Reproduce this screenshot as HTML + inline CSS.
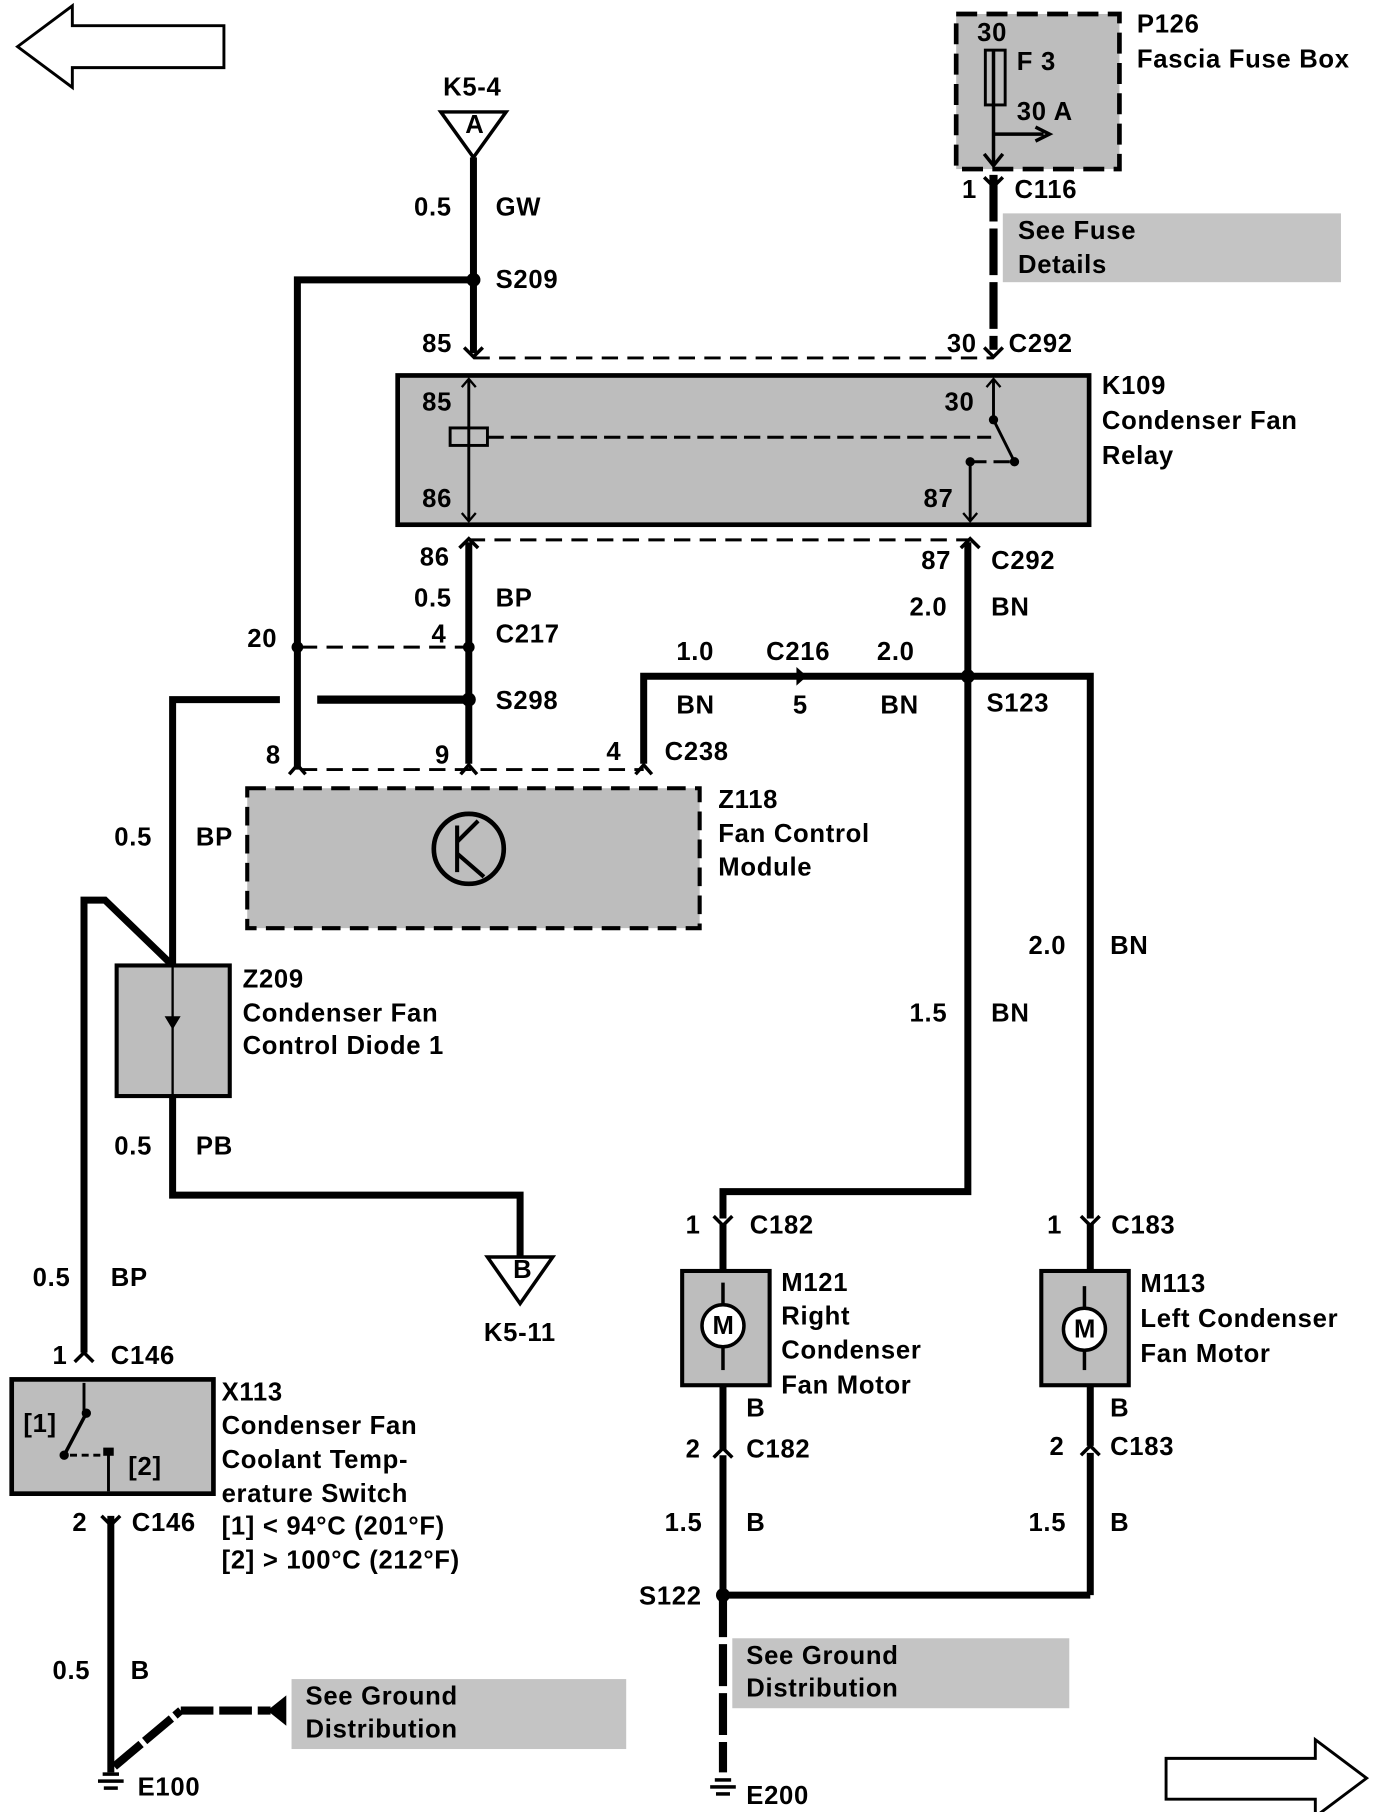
<!DOCTYPE html>
<html><head><meta charset="utf-8"><style>
html,body{margin:0;padding:0;background:#fff}
svg{display:block}
text{font-family:"Liberation Sans",Arial,sans-serif;font-weight:bold;font-size:22px;letter-spacing:0.6px;fill:#000}
</style></head><body>
<svg width="1376" height="1812" viewBox="0 0 1180 1554" xmlns="http://www.w3.org/2000/svg">
<g fill="none" stroke="#000">
<polygon points="15,40 62,5 62,22 192,22 192,58 62,58 62,75" stroke-width="2.5" fill="#fff"/>
<polygon points="1172,1525 1128,1492 1128,1508 1000,1508 1000,1543 1128,1543 1128,1558" stroke-width="2.5" fill="#fff"/>
<rect x="820" y="12" width="140" height="133" fill="#bdbdbd" stroke-width="4" stroke-dasharray="18,8"/>
<rect x="845" y="43" width="17" height="47" stroke-width="2.5"/>
<line x1="852" y1="43" x2="852" y2="140" stroke-width="3"/>
<line x1="852" y1="115" x2="895" y2="115" stroke-width="3"/>
<polyline points="888,109 900,115 888,121" stroke-width="3"/>
<polyline points="844,132 852,142 860,132" stroke-width="3"/>
<rect x="860" y="183" width="290" height="59" fill="#c4c4c4" stroke="none"/>
<line x1="852" y1="150" x2="852" y2="300" stroke-width="7" stroke-dasharray="40,6"/>
<polyline points="844,152 852,160 860,152" stroke-width="3"/>
<polygon points="378,96 434,96 406,135" stroke-width="3" fill="#fff"/>
<line x1="406" y1="135" x2="406" y2="303" stroke-width="6"/>
<polyline points="255,660 255,240 406,240" stroke-width="6"/>
<polyline points="398,298 406,306 414,298" stroke-width="3"/>
<polyline points="844,298 852,306 860,298" stroke-width="3"/>
<line x1="406" y1="307" x2="852" y2="307" stroke-width="2.5" stroke-dasharray="14,8"/>
<rect x="341" y="322" width="593" height="128" fill="#bdbdbd" stroke-width="4"/>
<line x1="402" y1="325" x2="402" y2="447" stroke-width="2.5"/>
<polyline points="396,332 402,325 408,332" stroke-width="2"/>
<polyline points="396,440 402,447 408,440" stroke-width="2"/>
<rect x="386" y="367" width="32" height="15" stroke-width="2.5"/>
<line x1="418" y1="375" x2="850" y2="375" stroke-width="2.5" stroke-dasharray="14,6"/>
<polyline points="852,325 852,360 870,396" stroke-width="2.5"/>
<polyline points="846,332 852,325 858,332" stroke-width="2"/>
<polyline points="832,396 868,396" stroke-width="2.5" stroke-dasharray="14,6"/>
<line x1="832" y1="447" x2="832" y2="396" stroke-width="2.5"/>
<polyline points="826,440 832,447 838,440" stroke-width="2"/>
<line x1="402" y1="463" x2="832" y2="463" stroke-width="2.5" stroke-dasharray="14,8"/>
<polyline points="394,470 402,462 410,470" stroke-width="3"/>
<polyline points="824,470 832,462 840,470" stroke-width="3"/>
<line x1="402" y1="465" x2="402" y2="655" stroke-width="6"/>
<line x1="258" y1="555" x2="402" y2="555" stroke-width="2.5" stroke-dasharray="14,8"/>
<line x1="258" y1="660" x2="552" y2="660" stroke-width="2.5" stroke-dasharray="14,8"/>
<polyline points="248,664 255,656 262,664" stroke-width="3"/>
<polyline points="395,664 402,656 409,664" stroke-width="3"/>
<polyline points="545,664 552,656 559,664" stroke-width="3"/>
<line x1="272" y1="600" x2="402" y2="600" stroke-width="7"/>
<polyline points="240,600 148,600 148,828" stroke-width="6"/>
<polyline points="148,940 148,1025 446,1025 446,1078" stroke-width="6"/>
<polyline points="72,1160 72,772 90,772 148,828" stroke-width="6"/>
<polyline points="552,655 552,580 830,580" stroke-width="6"/>
<polyline points="830,465 830,1022 620,1022 620,1045" stroke-width="6"/>
<polyline points="830,580 935,580 935,1045" stroke-width="6"/>
<rect x="212" y="676" width="388" height="120" fill="#bdbdbd" stroke-width="3.5" stroke-dasharray="16,8"/>
<circle cx="402" cy="728" r="30" stroke-width="4"/>
<line x1="392" y1="708" x2="392" y2="748" stroke-width="3.5"/>
<line x1="392" y1="722" x2="410" y2="704" stroke-width="3.5"/>
<line x1="392" y1="732" x2="415" y2="752" stroke-width="3.5"/>
<rect x="100" y="828" width="97" height="112" fill="#bdbdbd" stroke-width="3.5"/>
<line x1="148" y1="828" x2="148" y2="940" stroke-width="2"/>
<polygon points="142,872 154,872 148,882" fill="#000"/>
<polygon points="418,1078 474,1078 446,1118" stroke-width="3" fill="#fff"/>
<polyline points="612,1043 620,1051 628,1043" stroke-width="3"/>
<line x1="620" y1="1050" x2="620" y2="1090" stroke-width="6"/>
<rect x="585" y="1090" width="75" height="98" fill="#bdbdbd" stroke-width="3.5"/>
<circle cx="620" cy="1137" r="18" fill="#fff" stroke-width="3"/>
<line x1="620" y1="1100" x2="620" y2="1118" stroke-width="3"/>
<line x1="620" y1="1156" x2="620" y2="1175" stroke-width="3"/>
<line x1="620" y1="1188" x2="620" y2="1243" stroke-width="6"/>
<polyline points="612,1250 620,1242 628,1250" stroke-width="3"/>
<line x1="620" y1="1248" x2="620" y2="1368" stroke-width="6"/>
<line x1="620" y1="1368" x2="620" y2="1520" stroke-width="7" stroke-dasharray="36,6"/>
<line x1="620" y1="1368" x2="935" y2="1368" stroke-width="6"/>
<polyline points="927,1043 935,1051 943,1043" stroke-width="3"/>
<line x1="935" y1="1050" x2="935" y2="1090" stroke-width="6"/>
<rect x="893" y="1090" width="75" height="98" fill="#bdbdbd" stroke-width="3.5"/>
<circle cx="930" cy="1140" r="18" fill="#fff" stroke-width="3"/>
<line x1="930" y1="1103" x2="930" y2="1121" stroke-width="3"/>
<line x1="930" y1="1159" x2="930" y2="1175" stroke-width="3"/>
<line x1="935" y1="1188" x2="935" y2="1240" stroke-width="6"/>
<polyline points="927,1248 935,1240 943,1248" stroke-width="3"/>
<line x1="935" y1="1246" x2="935" y2="1368" stroke-width="6"/>
<rect x="628" y="1405" width="289" height="60" fill="#c4c4c4" stroke="none"/>
<polyline points="64,1168 72,1160 80,1168" stroke-width="3"/>
<rect x="10" y="1183" width="173" height="98" fill="#bdbdbd" stroke-width="4"/>
<line x1="72" y1="1186" x2="72" y2="1212" stroke-width="2.5"/>
<line x1="74" y1="1212" x2="55" y2="1248" stroke-width="3"/>
<circle cx="74" cy="1212" r="3.5" fill="#000"/><circle cx="55" cy="1248" r="3.5" fill="#000"/>
<line x1="60" y1="1248" x2="88" y2="1248" stroke-width="2.5" stroke-dasharray="6,4"/>
<line x1="93" y1="1246" x2="93" y2="1279" stroke-width="2.5"/>
<rect x="89" y="1242" width="8" height="6" fill="#000"/>
<polyline points="87,1300 95,1308 103,1300" stroke-width="3"/>
<line x1="95" y1="1300" x2="95" y2="1520" stroke-width="6"/>
<line x1="98" y1="1515" x2="155" y2="1467" stroke-width="7" stroke-dasharray="30,4"/>
<line x1="155" y1="1467" x2="232" y2="1467" stroke-width="7" stroke-dasharray="28,5"/>
<polygon points="230,1467 245,1455 245,1479" fill="#000"/>
<rect x="250" y="1440" width="287" height="60" fill="#c4c4c4" stroke="none"/>
</g>
<g fill="#000">
<circle cx="406" cy="240" r="6"/><circle cx="402" cy="600" r="6"/>
<circle cx="830" cy="580" r="6"/><circle cx="620" cy="1368" r="6"/>
<circle cx="852" cy="360" r="4"/><circle cx="870" cy="396" r="4"/><circle cx="832" cy="396" r="4"/>
<polygon points="683,572 692,580 683,588"/>
<circle cx="402" cy="555" r="5"/><circle cx="255" cy="555" r="5"/>
<rect x="613" y="1525" width="14" height="3"/><rect x="609" y="1531" width="22" height="3"/><rect x="614" y="1537" width="12" height="3"/>
<rect x="88" y="1520" width="14" height="3"/><rect x="84" y="1526" width="22" height="3"/><rect x="89" y="1532" width="12" height="3"/>
</g>
<text x="380" y="82">K5-4</text>
<text x="399" y="114" font-size="17">A</text>
<text x="355" y="185">0.5</text><text x="425" y="185">GW</text>
<text x="425" y="247">S209</text>
<text x="362" y="302">85</text>
<text x="975" y="28">P126</text><text x="975" y="58">Fascia Fuse Box</text>
<text x="838" y="35">30</text><text x="872" y="60">F 3</text><text x="872" y="103">30 A</text>
<text x="825" y="170">1</text><text x="870" y="170">C116</text>
<text x="873" y="205">See Fuse</text><text x="873" y="234">Details</text>
<text x="812" y="302">30</text><text x="865" y="302">C292</text>
<text x="362" y="352">85</text><text x="362" y="435">86</text>
<text x="810" y="352">30</text><text x="792" y="435">87</text>
<text x="945" y="338">K109</text><text x="945" y="368">Condenser Fan</text><text x="945" y="398">Relay</text>
<text x="360" y="485">86</text><text x="790" y="488">87</text><text x="850" y="488">C292</text>
<text x="355" y="520">0.5</text><text x="425" y="520">BP</text>
<text x="780" y="528">2.0</text><text x="850" y="528">BN</text>
<text x="370" y="551">4</text><text x="425" y="551">C217</text><text x="212" y="555">20</text>
<text x="580" y="566">1.0</text><text x="657" y="566">C216</text><text x="752" y="566">2.0</text>
<text x="580" y="612">BN</text><text x="680" y="612">5</text><text x="755" y="612">BN</text>
<text x="425" y="608">S298</text><text x="846" y="610">S123</text>
<text x="228" y="655">8</text><text x="373" y="655">9</text><text x="520" y="652">4</text><text x="570" y="652">C238</text>
<text x="616" y="693">Z118</text><text x="616" y="722">Fan Control</text><text x="616" y="751">Module</text>
<text x="98" y="725">0.5</text><text x="168" y="725">BP</text>
<text x="882" y="818">2.0</text><text x="952" y="818">BN</text>
<text x="208" y="847">Z209</text><text x="208" y="876">Condenser Fan</text><text x="208" y="904">Control Diode 1</text>
<text x="780" y="876">1.5</text><text x="850" y="876">BN</text>
<text x="98" y="990">0.5</text><text x="168" y="990">PB</text>
<text x="588" y="1058">1</text><text x="643" y="1058">C182</text>
<text x="898" y="1058">1</text><text x="953" y="1058">C183</text>
<text x="440" y="1096" font-size="17">B</text>
<text x="28" y="1103">0.5</text><text x="95" y="1103">BP</text>
<text x="670" y="1107">M121</text><text x="670" y="1136">Right</text><text x="670" y="1165">Condenser</text><text x="670" y="1195">Fan Motor</text>
<text x="978" y="1108">M113</text><text x="978" y="1138">Left Condenser</text><text x="978" y="1168">Fan Motor</text>
<text x="611" y="1144" font-size="18">M</text><text x="921" y="1147" font-size="18">M</text>
<text x="415" y="1150">K5-11</text>
<text x="45" y="1170">1</text><text x="95" y="1170">C146</text>
<text x="190" y="1201">X113</text><text x="190" y="1230">Condenser Fan</text><text x="190" y="1259">Coolant Temp-</text><text x="190" y="1288">erature Switch</text>
<text x="190" y="1316">[1]  &lt; 94°C (201°F)</text><text x="190" y="1345">[2]  &gt; 100°C (212°F)</text>
<text x="20" y="1228">[1]</text><text x="110" y="1265">[2]</text>
<text x="640" y="1215">B</text><text x="952" y="1215">B</text>
<text x="588" y="1250">2</text><text x="640" y="1250">C182</text>
<text x="900" y="1248">2</text><text x="952" y="1248">C183</text>
<text x="62" y="1313">2</text><text x="113" y="1313">C146</text>
<text x="570" y="1313">1.5</text><text x="640" y="1313">B</text>
<text x="882" y="1313">1.5</text><text x="952" y="1313">B</text>
<text x="548" y="1376">S122</text>
<text x="640" y="1427">See Ground</text><text x="640" y="1455">Distribution</text>
<text x="45" y="1440">0.5</text><text x="112" y="1440">B</text>
<text x="262" y="1462">See Ground</text><text x="262" y="1490">Distribution</text>
<text x="118" y="1540">E100</text><text x="640" y="1547">E200</text>
</svg>
</body></html>
